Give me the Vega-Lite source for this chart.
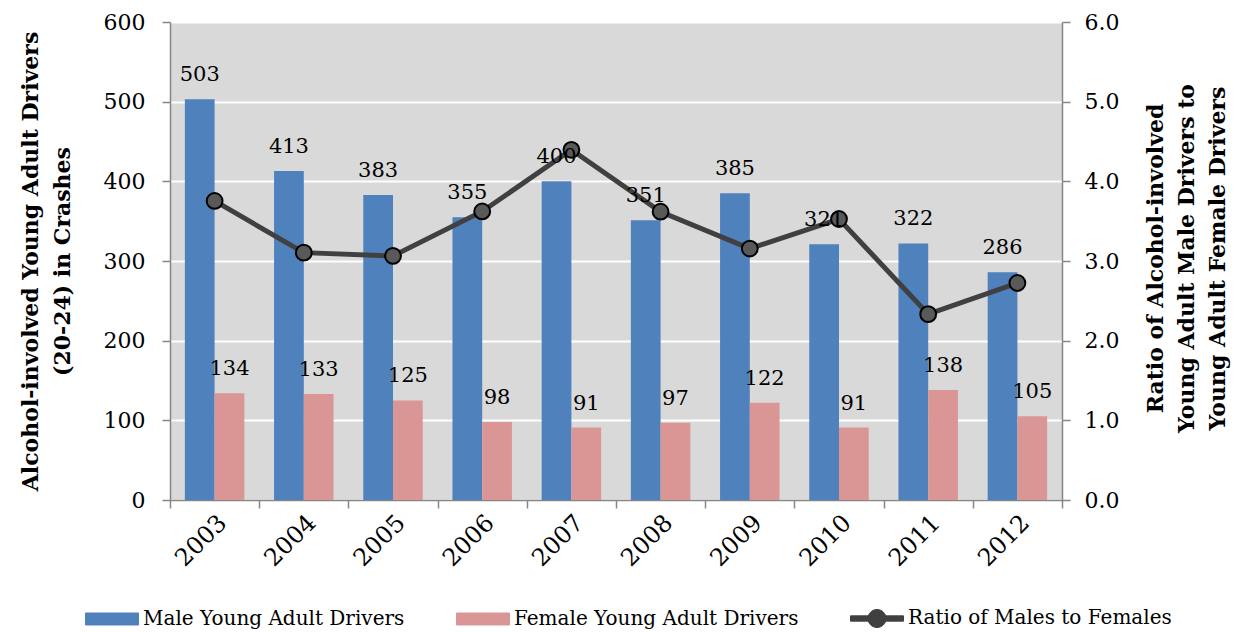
{
  "$schema": "https://vega.github.io/schema/vega-lite/v6.json",
  "autosize": {"type": "none"},
  "width": 892,
  "height": 478,
  "padding": {"left": 170, "top": 22, "right": 179, "bottom": 132},
  "background": "white",
  "config": {
    "view": {"fill": "#d9d9d9", "stroke": null},
    "font": "DejaVu Serif",
    "axis": {
      "labelFont": "DejaVu Serif",
      "labelFontSize": 22,
      "labelColor": "black",
      "titleFont": "DejaVu Serif",
      "titleFontSize": 22,
      "titleFontWeight": "bold",
      "titleColor": "black",
      "domainColor": "#868686",
      "domainWidth": 1.5,
      "tickColor": "#868686",
      "tickWidth": 1.5,
      "tickSize": 8
    }
  },
  "datasets": {
    "bars": [
      {"year": "2003", "series": "Male Young Adult Drivers", "value": 503},
      {"year": "2003", "series": "Female Young Adult Drivers", "value": 134},
      {"year": "2004", "series": "Male Young Adult Drivers", "value": 413},
      {"year": "2004", "series": "Female Young Adult Drivers", "value": 133},
      {"year": "2005", "series": "Male Young Adult Drivers", "value": 383},
      {"year": "2005", "series": "Female Young Adult Drivers", "value": 125},
      {"year": "2006", "series": "Male Young Adult Drivers", "value": 355},
      {"year": "2006", "series": "Female Young Adult Drivers", "value": 98},
      {"year": "2007", "series": "Male Young Adult Drivers", "value": 400},
      {"year": "2007", "series": "Female Young Adult Drivers", "value": 91},
      {"year": "2008", "series": "Male Young Adult Drivers", "value": 351},
      {"year": "2008", "series": "Female Young Adult Drivers", "value": 97},
      {"year": "2009", "series": "Male Young Adult Drivers", "value": 385},
      {"year": "2009", "series": "Female Young Adult Drivers", "value": 122},
      {"year": "2010", "series": "Male Young Adult Drivers", "value": 321},
      {"year": "2010", "series": "Female Young Adult Drivers", "value": 91},
      {"year": "2011", "series": "Male Young Adult Drivers", "value": 322},
      {"year": "2011", "series": "Female Young Adult Drivers", "value": 138},
      {"year": "2012", "series": "Male Young Adult Drivers", "value": 286},
      {"year": "2012", "series": "Female Young Adult Drivers", "value": 105}
    ],
    "ratio": [
      {"year": "2003", "ratio": 3.754},
      {"year": "2004", "ratio": 3.105},
      {"year": "2005", "ratio": 3.064},
      {"year": "2006", "ratio": 3.622},
      {"year": "2007", "ratio": 4.396},
      {"year": "2008", "ratio": 3.619},
      {"year": "2009", "ratio": 3.156},
      {"year": "2010", "ratio": 3.527},
      {"year": "2011", "ratio": 2.333},
      {"year": "2012", "ratio": 2.724}
    ]
  },
  "layer": [
    {
      "data": {"name": "bars"},
      "mark": {"type": "bar"},
      "encoding": {
        "x": {
          "field": "year",
          "type": "ordinal",
          "scale": {"paddingInner": 0, "paddingOuter": 0},
          "axis": {
            "title": null,
            "labelAngle": -45,
            "labelAlign": "right",
            "labelBaseline": "middle",
            "labelFontSize": 24,
            "labelOffset": 8,
            "labelPadding": 11,
            "tickBand": "extent",
            "grid": false
          }
        },
        "xOffset": {
          "field": "series",
          "scale": {"domain": ["Male Young Adult Drivers", "Female Young Adult Drivers"], "paddingInner": 0, "paddingOuter": 0.5}
        },
        "y": {
          "field": "value",
          "type": "quantitative",
          "scale": {"domain": [0, 600]},
          "axis": {
            "values": [0, 100, 200, 300, 400, 500, 600],
            "grid": true,
            "gridColor": "white",
            "gridWidth": 2,
            "labelPadding": 17,
            "title": ["Alcohol-involved Young Adult Drivers", "(20-24) in Crashes"],
            "titlePadding": 29,
            "titleLineHeight": 32
          }
        },
        "color": {
          "field": "series",
          "type": "nominal",
          "scale": {
            "domain": ["Male Young Adult Drivers", "Female Young Adult Drivers", "Ratio of Males to Females"],
            "range": ["#4f81bd", "#d99694", "#404040"]
          },
          "legend": {
            "orient": "none",
            "legendX": -85,
            "legendY": 569,
            "direction": "horizontal",
            "title": null,
            "padding": 0,
            "columnPadding": 49,
            "labelOffset": 4,
            "labelLimit": 0,
            "labelFont": "DejaVu Serif",
            "labelFontSize": 20,
            "labelColor": "black",
            "symbolType": "M-1,-0.226H1V0.226H-1Z",
            "symbolSize": 2809,
            "symbolStrokeWidth": 1,
            "encoding": {
              "symbols": {
                "shape": {"value": {"expr": "datum.label == 'Ratio of Males to Females' ? 'M-1,-0.1H1V0.1H-1Z M-0.34,0A0.34,0.34 0 1 1 0.34,0A0.34,0.34 0 1 1 -0.34,0Z' : 'M-1,-0.226H1V0.226H-1Z'"}},
                "fill": {"value": {"expr": "datum.label == 'Ratio of Males to Females' ? '#4d4d4d' : (datum.label == 'Male Young Adult Drivers' ? '#4f81bd' : '#d99694')"}},
                "stroke": {"value": {"expr": "datum.label == 'Ratio of Males to Females' ? '#000000' : (datum.label == 'Male Young Adult Drivers' ? '#4f81bd' : '#d99694')"}},
                "opacity": {"value": 1}
              }
            }
          }
        }
      }
    },
    {
      "data": {"name": "ratio"},
      "encoding": {
        "x": {"field": "year", "type": "ordinal"},
        "y": {
          "field": "ratio",
          "type": "quantitative",
          "scale": {"domain": [0, 6]},
          "axis": {
            "orient": "right",
            "values": [0, 1, 2, 3, 4, 5, 6],
            "format": ".1f",
            "grid": false,
            "labelPadding": 14,
            "title": ["Ratio of Alcohol-involved", "Young Adult Male Drivers to", "Young Adult Female Drivers"],
            "titleAngle": 270,
            "titleBaseline": "top",
            "titleAlign": "center",
            "titleX": 83,
            "titleY": 236,
            "titleLineHeight": 31
          }
        }
      },
      "layer": [
        {
          "mark": {"type": "line", "strokeWidth": 5},
          "encoding": {"color": {"datum": "Ratio of Males to Females", "type": "nominal"}}
        },
        {
          "mark": {"type": "point", "filled": true, "fill": "#595959", "stroke": "black", "strokeWidth": 2, "size": 250, "opacity": 1},
          "encoding": {}
        }
      ]
    },
    {
      "data": {"name": "bars"},
      "mark": {"type": "text", "dy": -24, "fontSize": 21, "font": "DejaVu Serif", "color": "black"},
      "encoding": {
        "x": {"field": "year", "type": "ordinal"},
        "xOffset": {"field": "series"},
        "y": {"field": "value", "type": "quantitative", "scale": {"domain": [0, 600]}, "axis": null},
        "text": {"field": "value", "type": "quantitative"}
      }
    }
  ],
  "resolve": {"scale": {"y": "independent"}}
}
